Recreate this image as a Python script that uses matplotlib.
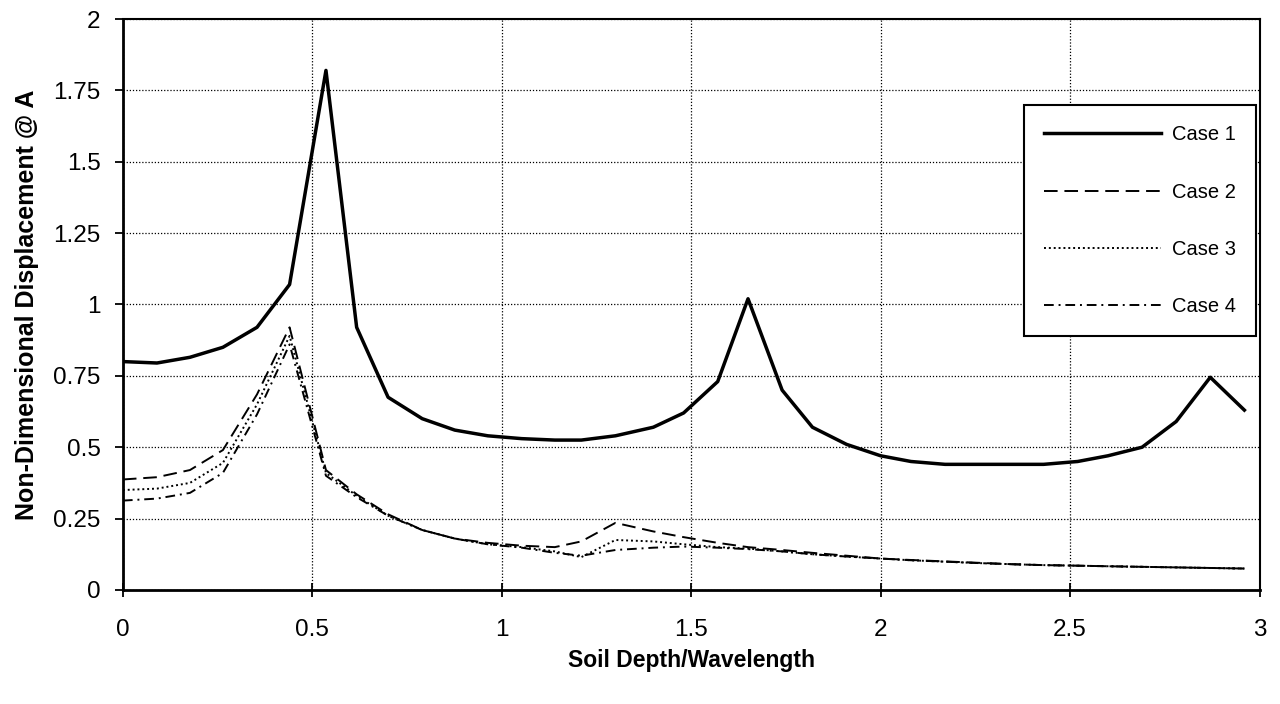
import numpy as np
import matplotlib
matplotlib.use("Agg")
import matplotlib.pyplot as plt

plt.rcParams['font.family'] = ['Liberation Sans', 'DejaVu Sans']

# soil depth / wavelength
depth = [0.0, 0.09, 0.177, 0.264, 0.354, 0.44, 0.536, 0.617, 0.70, 0.79, 0.876, 0.963,
         1.053, 1.14, 1.21, 1.30, 1.40, 1.48, 1.57, 1.65, 1.74, 1.82, 1.91, 2.0,
         2.08, 2.17, 2.26, 2.35, 2.43, 2.52, 2.60, 2.69, 2.78, 2.87, 2.96]

case1 = [0.80, 0.795, 0.815, 0.85, 0.92, 1.07, 1.82, 0.92, 0.675, 0.60, 0.56, 0.54,
         0.53, 0.525, 0.525, 0.54, 0.57, 0.62, 0.73, 1.02, 0.70, 0.57, 0.51, 0.47,
         0.45, 0.44, 0.44, 0.44, 0.44, 0.45, 0.47, 0.50, 0.59, 0.745, 0.63]
case2 = [0.387, 0.395, 0.42, 0.49, 0.685, 0.92, 0.42, 0.335, 0.265, 0.21, 0.18, 0.165,
         0.155, 0.15, 0.17, 0.235, 0.205, 0.185, 0.165, 0.15, 0.14, 0.13, 0.12, 0.11,
         0.105, 0.10, 0.095, 0.09, 0.087, 0.085, 0.083, 0.081, 0.079, 0.077, 0.075]
case3 = [0.35, 0.355, 0.375, 0.445, 0.65, 0.89, 0.41, 0.33, 0.26, 0.21, 0.18, 0.16,
         0.15, 0.135, 0.115, 0.175, 0.17, 0.16, 0.15, 0.145, 0.135, 0.125, 0.117, 0.11,
         0.104, 0.099, 0.094, 0.09, 0.087, 0.085, 0.083, 0.081, 0.079, 0.077, 0.075]
case4 = [0.313, 0.32, 0.34, 0.41, 0.615, 0.86, 0.40, 0.325, 0.26, 0.21, 0.18, 0.16,
         0.148, 0.13, 0.12, 0.14, 0.148, 0.152, 0.148, 0.143, 0.135, 0.125, 0.117, 0.11,
         0.104, 0.099, 0.094, 0.09, 0.087, 0.085, 0.083, 0.081, 0.079, 0.077, 0.075]

xticks = [0, 0.5, 1, 1.5, 2, 2.5, 3]
xtick_labels = ["0", "0.5", "1", "1.5", "2", "2.5", "3"]
yticks = [0, 0.25, 0.5, 0.75, 1, 1.25, 1.5, 1.75, 2]
ytick_labels = ["0", "0.25", "0.5", "0.75", "1", "1.25", "1.5", "1.75", "2"]

fig = plt.figure(figsize=(12.8, 7.04), dpi=100)
ax = fig.add_axes([0.096, 0.162, 0.888, 0.811])

ax.plot(depth, case1, color='black', lw=2.5, label='Case 1')
ax.plot(depth, case2, color='black', lw=1.4, dashes=(7, 3.5), label='Case 2')
ax.plot(depth, case3, color='black', lw=1.4, dashes=(1, 1.5), label='Case 3')
ax.plot(depth, case4, color='black', lw=1.4, dashes=(5, 2.5, 1, 2.5), label='Case 4')

ax.set_xlim(0, 3)
ax.set_ylim(0, 2)
ax.set_xticks(xticks)
ax.set_xticklabels(xtick_labels)
ax.set_yticks(yticks)
ax.set_yticklabels(ytick_labels)
ax.tick_params(axis='both', labelsize=17.5, colors='black', width=1.3, length=6)
ax.tick_params(axis='x', direction='inout', length=10, pad=16)
ax.tick_params(axis='y', direction='out', pad=10)

ax.grid(True, color='black', linestyle=(0, (1, 1.5)), linewidth=0.9)
for s in ax.spines.values():
    s.set_color('black')
    s.set_linewidth(1.5)
ax.spines['left'].set_linewidth(2)
ax.spines['bottom'].set_linewidth(2)

ax.set_xlabel('Soil Depth/Wavelength', fontsize=16.5, fontweight='bold', labelpad=6)
ax.set_ylabel('Non-Dimensional Displacement @ A', fontsize=18, fontweight='bold', labelpad=10)

leg = ax.legend(loc='upper right', bbox_to_anchor=(0.997, 0.849), borderaxespad=0,
                fontsize=14.5, handlelength=5.8, handletextpad=0.55,
                labelspacing=1.9, borderpad=1.0,
                fancybox=False, framealpha=1, edgecolor='black')
leg.get_frame().set_linewidth(1.5)

fig.savefig('out.png', dpi=100)
